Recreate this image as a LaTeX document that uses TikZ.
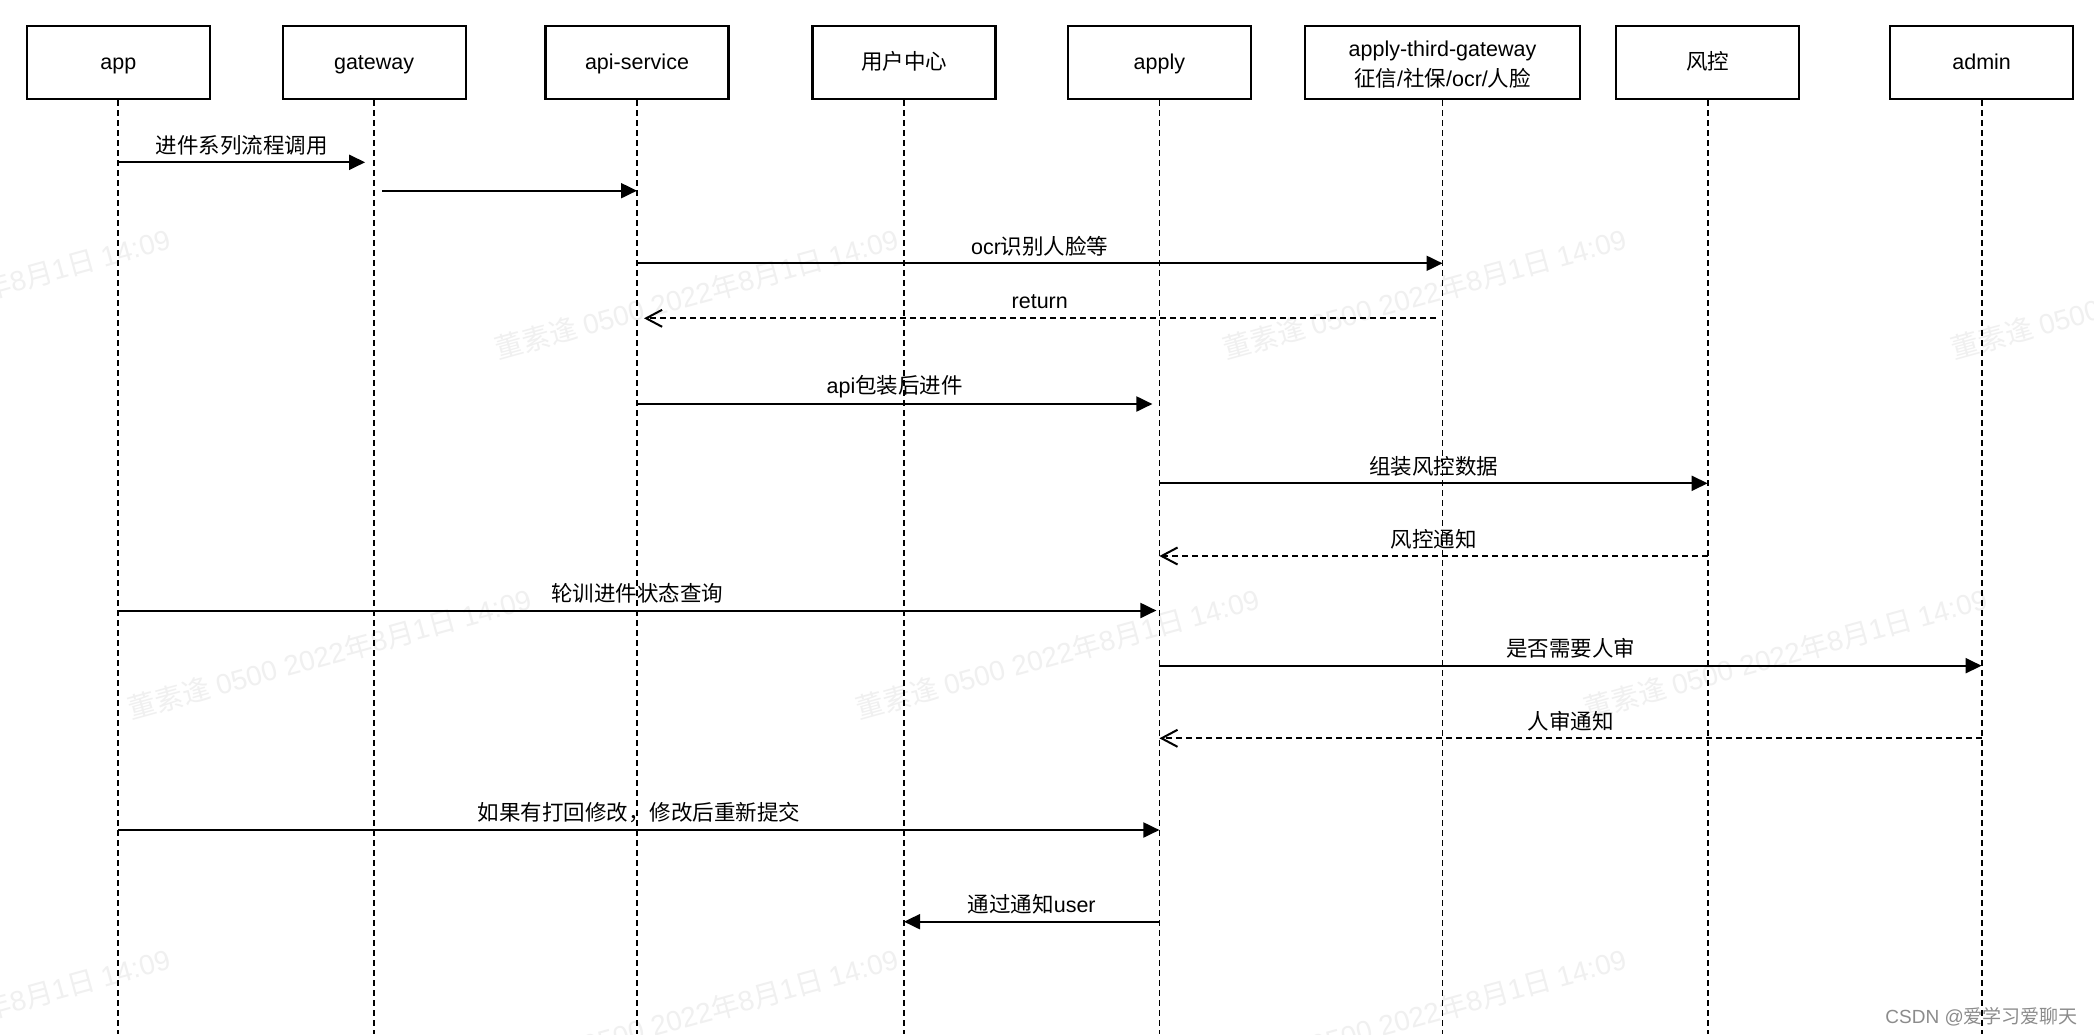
\documentclass[tikz,border=0pt]{standalone}
\usepackage{fontspec}
\setmainfont{Liberation Sans}
\newfontfamily\cjk{Noto Sans CJK SC}
\usetikzlibrary{arrows.meta,calc}
\begin{document}
\begin{tikzpicture}[x=1pt,y=-1pt,
  actorbase/.style={draw=black, line width=2.2pt, minimum width=183pt, minimum height=73.3pt,
    inner sep=0pt, font=\fontsize{21.5}{30}\selectfont, align=center},
  actor/.style={actorbase, text height=18.5pt, text depth=5pt},
  lifeline/.style={line width=1.8pt, dash pattern=on 6pt off 4pt},
  msg/.style={line width=2pt, -{Triangle[length=16pt,width=15pt]}},
  ret/.style={line width=2pt, dash pattern=on 6pt off 4pt,
    -{Straight Barb[length=16pt,width=17pt]}},
  lbl/.style={font=\fontsize{21.5}{26}\selectfont, inner sep=0pt, midway, yshift=17pt},
  wm/.style={text=black!6, font=\fontsize{28}{30}\selectfont, rotate=15.5,
    anchor=base west, inner sep=0pt},
]
\useasboundingbox (0,0) rectangle (2094,1034);
\clip (0,0) rectangle (2094,1034);
\fill[white] (0,0) rectangle (2094,1034);

% watermarks
\foreach \wx/\wy [count=\i] in {-230/360,498/360,1226/360,1954/360,131/720,859/720,1587/720,-230/1080,498/1080,1226/1080}{
  \node[wm] (wm\i) at (\wx,\wy) {{\cjk 董素逢} 0500 2022{\cjk 年}8{\cjk 月}1{\cjk 日} 14:09};
}

% actors
\node[actor] (app) at (118.3,62.65) {app};
\node[actor] (gw) at (374.1,62.65) {gateway};
\node[actor] (api) at (637,62.65) {api-service};
\node[actor] (uc) at (904,62.65) {\cjk 用户中心};
\node[actor] (apply) at (1159.4,62.65) {apply};
\node[actorbase, minimum width=274.4pt] (third) at (1442.5,62.65) {};
\node[font=\fontsize{21.5}{30}\selectfont, align=center, inner sep=0pt] (thirdlbl)
  at ([yshift=-1.5pt]third.center)
  {apply-third-gateway\\{\cjk 征信}/{\cjk 社保}/ocr/{\cjk 人脸}};
\node[actor] (risk) at (1707.6,62.65) {\cjk 风控};
\node[actor] (admin) at (1981.6,62.65) {admin};

\coordinate (bot) at (0,1034);
\foreach \n in {app,gw,api,uc,apply,third,risk,admin}{
  \draw[lifeline] (\n.south) -- (\n.south |- bot);
}

% message rows
\coordinate (r1) at (0,162.3);
\coordinate (r2) at (0,190.7);
\coordinate (r3) at (0,263.3);
\coordinate (r4) at (0,318.3);
\coordinate (r5) at (0,404);
\coordinate (r6) at (0,483.3);
\coordinate (r7) at (0,556);
\coordinate (r8) at (0,610.5);
\coordinate (r9) at (0,665.7);
\coordinate (r10) at (0,738.3);
\coordinate (r11) at (0,830);
\coordinate (r12) at (0,921.7);

\draw[msg] (app |- r1) -- ($(gw |- r1)+(-9,0)$) node[lbl] {\cjk 进件系列流程调用};
\draw[msg] ($(gw |- r2)+(8,0)$) -- (api |- r2);
\draw[msg] (api |- r3) -- (third |- r3) node[lbl] {ocr{\cjk 识别人脸等}};
\draw[ret] ($(third |- r4)+(-7,0)$) -- ($(api |- r4)+(7,0)$) node[lbl] {return};
\draw[msg] (api |- r5) -- ($(apply |- r5)+(-7,0)$) node[lbl] {api{\cjk 包装后进件}};
\draw[msg] (apply |- r6) -- (risk |- r6) node[lbl] {\cjk 组装风控数据};
\draw[ret] (risk |- r7) -- (apply |- r7) node[lbl] {\cjk 风控通知};
\draw[msg] (app |- r8) -- ($(apply |- r8)+(-3,0)$) node[lbl] {\cjk 轮训进件状态查询};
\draw[msg] (apply |- r9) -- (admin |- r9) node[lbl] {\cjk 是否需要人审};
\draw[ret] (admin |- r10) -- (apply |- r10) node[lbl] {\cjk 人审通知};
\draw[msg] (app |- r11) -- (apply |- r11) node[lbl] {\cjk 如果有打回修改，修改后重新提交};
\draw[msg] (apply |- r12) -- (uc |- r12) node[lbl] {{\cjk 通过通知}user};

\node[text=black!45, font=\fontsize{19}{21}\selectfont, anchor=east, inner sep=0pt]
  (csdn) at (2078,1017) {CSDN @{\cjk 爱学习爱聊天}};
\end{tikzpicture}
\end{document}
